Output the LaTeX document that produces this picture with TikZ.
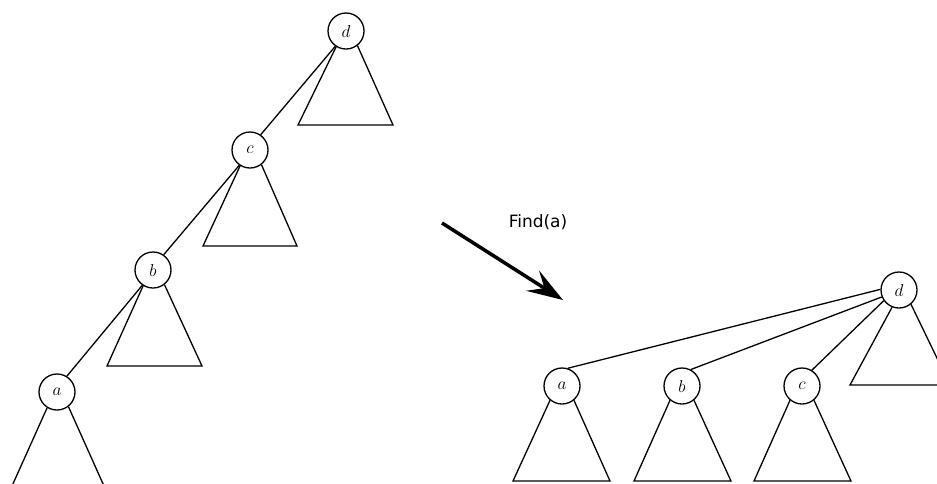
\documentclass[tikz,border=0pt]{standalone}
\usepackage{fontspec}
\newfontfamily\labelfont{DejaVu Sans}
\usetikzlibrary{arrows.meta}
\begin{document}
\begin{tikzpicture}[x=1pt,y=-1pt,
  tnode/.style={circle,draw,line width=1.3pt,minimum size=36pt,inner sep=0pt,font=\fontsize{19}{19}\selectfont},
  edge/.style={line width=1.3pt},
  tri/.style={line width=1.3pt,line join=miter}]
\useasboundingbox (0,0) rectangle (937,483);
\clip (0,0) rectangle (937,483);
% left tree
\node[tnode] (Ld) at (346,31) {$d$};
\node[tnode] (Lc) at (250,150) {$c$};
\node[tnode] (Lb) at (153,270) {$b$};
\node[tnode] (La) at (57,392) {$a$};
\draw[tri] (Ld.-122) -- (298,125) -- (393,125) -- (Ld.-52);
\draw[tri] (Lc.-122) -- (203,246) -- (297,246) -- (Lc.-52);
\draw[tri] (Lb.-122) -- (107,366) -- (202,366) -- (Lb.-52);
\draw[tri] (La.-122) -- (12,486) -- (104,486) -- (La.-52);
\draw[edge] (Ld.-125) -- (Lc.55);
\draw[edge] (Lc.-125) -- (Lb.55);
\draw[edge] (Lb.-125) -- (La.58);
% arrow
\coordinate (As) at (442,223);
\coordinate (Ae) at (563,300);
\draw[line width=3.5pt,-{Stealth[length=36pt,width=24pt,inset=14pt]}] (As) -- (Ae);
\node[font=\labelfont\fontsize{17}{17}\selectfont,anchor=center] (find) at (538,222) {Find(a)};
% right tree
\node[tnode] (Rd) at (899,290) {$d$};
\node[tnode] (Ra) at (562,386) {$a$};
\node[tnode] (Rb) at (682,386) {$b$};
\node[tnode] (Rc) at (802,386) {$c$};
\draw[tri] (Rd.-112) -- (850,385) -- (950,385) -- (Rd.-50);
\draw[tri] (Ra.-130) -- (513,481) -- (610,481) -- (Ra.-50);
\draw[tri] (Rb.-130) -- (634,481) -- (731,481) -- (Rb.-50);
\draw[tri] (Rc.-130) -- (754,481) -- (851,481) -- (Rc.-50);
\draw[edge] (Rd.178) -- (Ra.72);
\draw[edge] (Rd.-158) -- (Rb.62);
\draw[edge] (Rd.-145) -- (Rc.58);
\end{tikzpicture}
\end{document}
